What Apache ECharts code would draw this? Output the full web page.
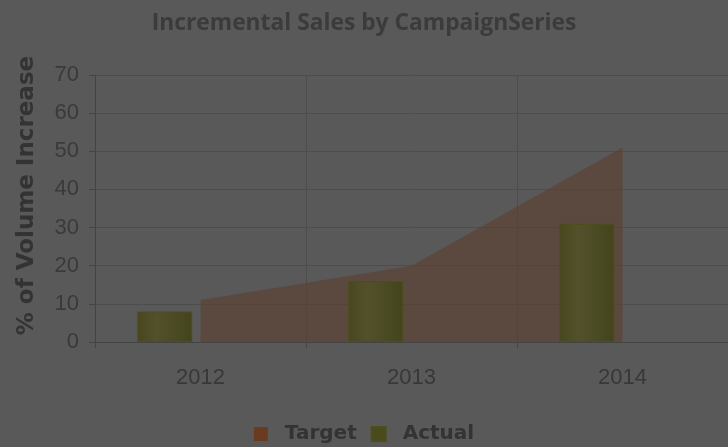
<!DOCTYPE html>
<html>
<head>
<meta charset="utf-8">
<script src="https://cdn.jsdelivr.net/npm/echarts@6/dist/echarts.min.js"></script>
<style>
html,body{margin:0;padding:0;background:#595959;}
#chart{width:728px;height:447px;}
</style>
</head>
<body>
<div id="chart"></div>
<script>
// data
var years = ['2012', '2013', '2014'];
var target = [11, 20, 51];
var actual = [8, 16, 31];

var myChart = echarts.init(document.getElementById('chart'));
var option = {
    backgroundColor: '#595959',
    animation: false,
    title: {
        text: 'Incremental Sales by CampaignSeries',
        left: 'center',
        top: 7,
        textStyle: {
            fontFamily: 'Open Sans, sans-serif',
            fontSize: 22.8,
            fontWeight: 'bold',
            color: '#3b3b3b'
        }
    },
    legend: {
        bottom: -2,
        left: 'center',
        data: [
            {name: 'Target', itemStyle: {color: '#6a3b21'}},
            {name: 'Actual', itemStyle: {color: '#4a4a1c'}}
        ],
        icon: 'rect',
        itemWidth: 14,
        itemHeight: 14,
        itemGap: 14,
        textStyle: {
            fontFamily: 'DejaVu Sans, sans-serif',
            fontSize: 20,
            fontWeight: 'bold',
            color: '#333',
            padding: [0, 0, 0, 12]
        }
    },
    grid: {left: 95, right: 0, top: 75, bottom: 105},
    xAxis: [{
        type: 'category',
        data: years,
        boundaryGap: true,
        axisLine: {lineStyle: {color: '#444', width: 1}},
        axisTick: {show: true, length: 6, lineStyle: {color: '#444'}},
        splitLine: {show: true, lineStyle: {color: '#4d4d4d'}},
        axisLabel: {
            margin: 25,
            fontFamily: 'Liberation Sans, sans-serif',
            fontSize: 22,
            color: '#383838'
        }
    }],
    yAxis: [{
        type: 'value',
        min: 0,
        max: 70,
        interval: 10,
        name: '% of Volume Increase',
        nameLocation: 'middle',
        nameGap: 56,
        nameTextStyle: {
            fontFamily: 'DejaVu Sans, sans-serif',
            fontSize: 23,
            fontWeight: 'bold',
            color: '#333',
            padding: [0, 0, 0, 26]
        },
        axisLine: {show: true, lineStyle: {color: '#444'}},
        axisTick: {show: true, length: 6, lineStyle: {color: '#444'}},
        splitLine: {show: true, lineStyle: {color: '#4d4d4d'}},
        axisLabel: {
            margin: 16,
            fontFamily: 'Liberation Sans, sans-serif',
            fontSize: 22,
            color: '#3a3a3a'
        }
    }],
    series: [
        {
            name: 'Target',
            type: 'line',
            data: target,
            symbol: 'none',
            lineStyle: {width: 0},
            itemStyle: {color: '#6a3b21'},
            areaStyle: {color: 'rgba(94,64,47,0.6)', opacity: 1},
            z: 1
        },
        {
            name: 'Actual',
            type: 'bar',
            data: actual,
            barWidth: 55,
            barGap: '30%',
            itemStyle: {
                color: new echarts.graphic.LinearGradient(0, 0, 1, 0, [
                    {offset: 0, color: '#47471f'},
                    {offset: 0.35, color: '#52512b'},
                    {offset: 1, color: '#44441c'}
                ]),
                borderColor: '#4e4e1a',
                borderWidth: 1
            },
            z: 3
        },
        {
            // empty slot so Actual sits left of centre
            name: 'slot',
            type: 'bar',
            data: [null, null, null],
            barWidth: 55
        }
    ]
};
myChart.setOption(option);
</script>
</body>
</html>
